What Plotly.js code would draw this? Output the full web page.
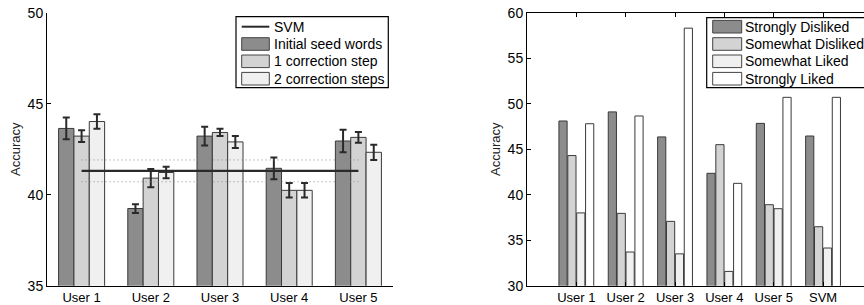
<!DOCTYPE html>
<html>
<head>
<meta charset="utf-8">
<script src="https://cdn.plot.ly/plotly-3.0.1.min.js"></script>
<style>html,body{margin:0;padding:0;background:#fff;}#chart{width:864px;height:305px;}</style>
</head>
<body>
<div id="chart"></div>
<script>
// ---- Left chart data ----
const users = ['User 1', 'User 2', 'User 3', 'User 4', 'User 5'];
const seedWords = [43.64, 39.24, 43.22, 41.45, 42.95];
const seedErr = [0.60, 0.24, 0.52, 0.60, 0.62];
const oneStep = [43.22, 40.91, 43.42, 40.24, 43.15];
const oneErr = [0.32, 0.50, 0.20, 0.40, 0.30];
const twoSteps = [44.02, 41.22, 42.90, 40.24, 42.33];
const twoErr = [0.40, 0.32, 0.33, 0.40, 0.42];
const svmMean = 41.31;
const svmBand = 0.60;
const leftNames = ['SVM', 'Initial seed words', '1 correction step', '2 correction steps'];

// ---- Right chart data ----
const prefCats = ['User 1', 'User 2', 'User 3', 'User 4', 'User 5', 'SVM'];
const stronglyDisliked = [48.10, 49.10, 46.35, 42.35, 47.84, 46.45];
const somewhatDisliked = [44.30, 37.95, 37.07, 45.50, 38.90, 36.48];
const somewhatLiked = [38.00, 33.70, 33.50, 31.57, 38.46, 34.14];
const stronglyLiked = [47.80, 48.65, 58.30, 41.25, 50.70, 50.70];
const rightNames = ['Strongly Disliked', 'Somewhat Disliked', 'Somewhat Liked', 'Strongly Liked'];

const FONT = 'Liberation Sans, Arial, Helvetica, sans-serif';
const C_DARK = '#8c8c8c', C_MID = '#d3d3d3', C_LIGHT = '#f0f0f0', C_WHITE = '#ffffff';
const EDGE = '#3a3a3a';

function leftBar(y, err, color, name) {
  return {
    type: 'bar', x: users, y: y, name: name, xaxis: 'x', yaxis: 'y',
    marker: {color: color, line: {color: EDGE, width: 1}},
    error_y: {type: 'data', array: err, visible: true, color: '#2a2a2a', thickness: 2, width: 3.5},
    showlegend: false, hoverinfo: 'skip'
  };
}
const rightSlot = 0.18, rightWidth = 0.166;
function rightBar(y, k, color, name) {
  return {
    type: 'bar', x: prefCats, y: y, name: name, xaxis: 'x2', yaxis: 'y2',
    width: rightWidth, offset: -0.353 + k * rightSlot,
    marker: {color: color, line: {color: EDGE, width: 1}},
    showlegend: false, hoverinfo: 'skip'
  };
}

const svmX = [users[0], users[users.length - 1]];
const traces = [
  leftBar(seedWords, seedErr, C_DARK, leftNames[1]),
  leftBar(oneStep, oneErr, C_MID, leftNames[2]),
  leftBar(twoSteps, twoErr, C_LIGHT, leftNames[3]),
  {type: 'scatter', mode: 'lines', x: svmX, y: [svmMean + svmBand, svmMean + svmBand], xaxis: 'x', yaxis: 'y',
   line: {color: '#8a8a8a', width: 1, dash: '1px,3px'}, showlegend: false, hoverinfo: 'skip'},
  {type: 'scatter', mode: 'lines', x: svmX, y: [svmMean - svmBand, svmMean - svmBand], xaxis: 'x', yaxis: 'y',
   line: {color: '#8a8a8a', width: 1, dash: '1px,3px'}, showlegend: false, hoverinfo: 'skip'},
  {type: 'scatter', mode: 'lines', x: svmX, y: [svmMean, svmMean], name: leftNames[0], xaxis: 'x', yaxis: 'y',
   line: {color: '#2a2a2a', width: 2.2}, showlegend: false, hoverinfo: 'skip'},
  rightBar(stronglyDisliked, 0, C_DARK, rightNames[0]),
  rightBar(somewhatDisliked, 1, C_MID, rightNames[1]),
  rightBar(somewhatLiked, 2, C_LIGHT, rightNames[2]),
  rightBar(stronglyLiked, 3, C_WHITE, rightNames[3])
];

// ---- manual legends (paper coords = pixels / size) ----
const W = 864, H = 305;
const px = v => v / W, py = v => 1 - v / H;
const shapes = [], annotations = [];
function legendBox(x0, x1, y0, y1) {
  shapes.push({type: 'rect', xref: 'paper', yref: 'paper', x0: px(x0), x1: px(x1), y0: py(y1), y1: py(y0),
    line: {color: '#000', width: 1.2}, fillcolor: '#fff', layer: 'above'});
}
function legendSwatch(x0, x1, yc, color) {
  shapes.push({type: 'rect', xref: 'paper', yref: 'paper', x0: px(x0), x1: px(x1), y0: py(yc + 6.3), y1: py(yc - 6.3),
    line: {color: '#444', width: 1}, fillcolor: color, layer: 'above'});
}
function legendLine(x0, x1, yc) {
  shapes.push({type: 'line', xref: 'paper', yref: 'paper', x0: px(x0), x1: px(x1), y0: py(yc), y1: py(yc),
    line: {color: '#2a2a2a', width: 2}, layer: 'above'});
}
function legendText(x, yc, text) {
  annotations.push({xref: 'paper', yref: 'paper', x: px(x), y: py(yc), text: text, showarrow: false,
    xanchor: 'left', yanchor: 'middle', font: {family: FONT, size: 14, color: '#000'}});
}
const rows = [26.7, 44.0, 61.3, 78.7];
legendBox(236, 388.3, 16.7, 87.7);
legendLine(241.7, 269.3, rows[0]);
legendSwatch(241.7, 269.3, rows[1], C_DARK);
legendSwatch(241.7, 269.3, rows[2], C_MID);
legendSwatch(241.7, 269.3, rows[3], C_LIGHT);
leftNames.forEach((n, i) => legendText(271.5, rows[i], n));

legendBox(706.7, 866, 17.7, 87.7);
[C_DARK, C_MID, C_LIGHT, C_WHITE].forEach((c, i) => legendSwatch(712.7, 741.7, rows[i], c));
rightNames.forEach((n, i) => legendText(743, rows[i], n));

const yTitle = {text: 'Accuracy', font: {family: FONT, size: 13, color: '#222'}, standoff: 4};
const layout = {
  width: W, height: H,
  margin: {l: 0, r: 0, t: 0, b: 0, pad: 0},
  paper_bgcolor: '#fff', plot_bgcolor: 'rgba(0,0,0,0)',
  barmode: 'group', bargap: 0.335, bargroupgap: 0,
  showlegend: false,
  font: {family: FONT, color: '#000'},
  xaxis: {domain: [47 / W, 393 / W], anchor: 'y', range: [-0.5, 4.5], type: 'category',
    showline: true, linecolor: '#000', linewidth: 1, ticks: '', showgrid: false, zeroline: false,
    tickfont: {family: FONT, size: 13, color: '#000'}, fixedrange: true},
  yaxis: {domain: [1 - 285.7 / H, 1 - 12.7 / H], anchor: 'x', range: [35, 50], dtick: 5,
    showline: true, linecolor: '#000', linewidth: 1, ticks: 'inside', ticklen: 4, tickcolor: '#000',
    showgrid: false, zeroline: false, tickfont: {family: FONT, size: 14, color: '#000'},
    title: yTitle, fixedrange: true},
  xaxis2: {domain: [527 / W, 1], anchor: 'y2', range: [-1, 5.83], type: 'category',
    showline: true, linecolor: '#000', linewidth: 1, mirror: 'ticks', ticks: 'inside', ticklen: 4, tickcolor: '#000',
    showgrid: false, zeroline: false, tickfont: {family: FONT, size: 13, color: '#000'}, fixedrange: true},
  yaxis2: {domain: [1 - 285.7 / H, 1 - 12.7 / H], anchor: 'x2', range: [30, 60], dtick: 5,
    showline: true, linecolor: '#000', linewidth: 1, ticks: 'inside', ticklen: 4, tickcolor: '#000',
    showgrid: false, zeroline: false, tickfont: {family: FONT, size: 14, color: '#000'},
    title: yTitle, fixedrange: true},
  shapes: shapes,
  annotations: annotations
};
Plotly.newPlot('chart', traces, layout, {displayModeBar: false, staticPlot: true});
</script>
</body>
</html>
